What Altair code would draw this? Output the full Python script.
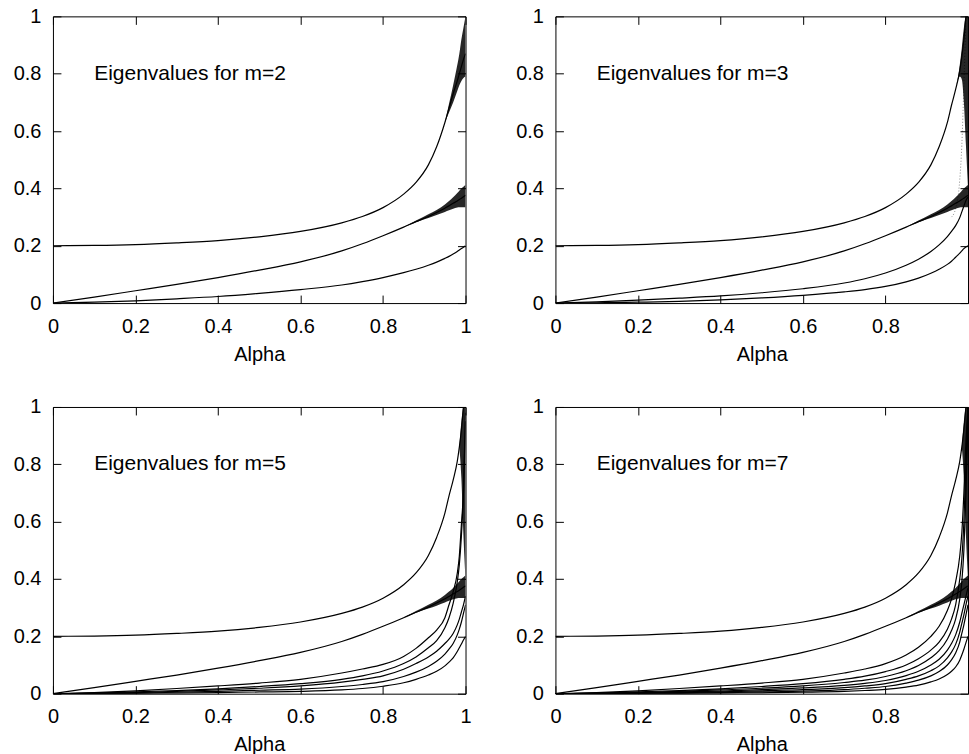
import altair as alt
import pandas as pd

FONT = "Liberation Sans"

# shared alpha grid (x values) used by every curve
ALPHA = [0.0, 0.1, 0.2, 0.3, 0.4, 0.5, 0.6, 0.7, 0.75, 0.8, 0.85, 0.88,
         0.91, 0.93, 0.95, 0.96, 0.97, 0.98, 0.985, 0.99, 0.995, 1.0]
AXIS_TICKS = [0, 0.2, 0.4, 0.6, 0.8, 1.0]

# ---- curves (one per ALPHA entry) ----
TOP = [0.200, 0.201, 0.204, 0.210, 0.218, 0.231, 0.250, 0.280, 0.302, 0.333, 0.380, 0.421,
       0.482, 0.545, 0.630, 0.690, 0.745, 0.810, 0.860, 0.920, 1.000, None]
TOP_M2 = [0.200, 0.201, 0.204, 0.210, 0.218, 0.231, 0.250, 0.280, 0.302, 0.333, 0.380, 0.421,
          0.482, 0.545, 0.630, 0.680, 0.730, 0.775, 0.800, 0.825, 0.850, 0.870]
MID = [0.0, 0.021, 0.043, 0.065, 0.089, 0.115, 0.144, 0.182, 0.207, 0.235, 0.265, 0.284,
       0.302, 0.316, 0.331, 0.339, 0.348, 0.356, 0.361, 0.366, 0.371, 0.376]
LOW_M2 = [0.0, 0.003, 0.008, 0.015, 0.023, 0.034, 0.047, 0.063, 0.075, 0.089, 0.106, 0.118,
          0.132, 0.143, 0.156, 0.163, 0.171, 0.180, 0.185, 0.190, 0.195, 0.200]

M3_A = [0.0, 0.004, 0.010, 0.017, 0.025, 0.036, 0.050, 0.070, 0.085, 0.105, 0.132, 0.153,
        0.180, 0.203, 0.232, 0.250, 0.270, 0.298, 0.318, 0.338, 0.358, 0.370]
M3_B = [0.0, 0.001, 0.003, 0.006, 0.011, 0.018, 0.027, 0.039, 0.047, 0.058, 0.074, 0.087,
        0.104, 0.118, 0.135, 0.146, 0.160, 0.174, 0.182, 0.190, 0.196, 0.200]
M3_STEEP = [None] * 15 + [0.300, 0.330, 0.430, 0.550, 0.760, 1.000, None]

M5_A = [0.0, 0.004, 0.010, 0.018, 0.027, 0.037, 0.050, 0.072, 0.086, 0.102, 0.130, 0.158,
        0.195, 0.222, 0.265, 0.310, 0.355, 0.420, 0.480, 0.590, 0.710, 0.980]
M5_B = [0.0, 0.002, 0.006, 0.011, 0.017, 0.025, 0.035, 0.050, 0.062, 0.079, 0.105, 0.128,
        0.160, 0.185, 0.230, 0.265, 0.315, 0.390, 0.450, 0.550, 0.700, 0.950]
M5_C = [0.0, 0.001, 0.004, 0.008, 0.013, 0.019, 0.027, 0.040, 0.050, 0.062, 0.085, 0.105,
        0.128, 0.148, 0.175, 0.190, 0.210, 0.240, 0.260, 0.285, 0.310, 0.340]
M5_D = [0.0, 0.001, 0.002, 0.005, 0.008, 0.012, 0.016, 0.025, 0.032, 0.042, 0.060, 0.075,
        0.095, 0.113, 0.138, 0.155, 0.175, 0.205, 0.225, 0.250, 0.280, 0.310]
M5_E = [0.0, 0.0, 0.001, 0.002, 0.004, 0.006, 0.008, 0.013, 0.018, 0.026, 0.038, 0.050,
        0.065, 0.078, 0.097, 0.110, 0.125, 0.147, 0.160, 0.173, 0.187, 0.200]

M7_A = [0.0, 0.004, 0.010, 0.018, 0.027, 0.037, 0.050, 0.072, 0.086, 0.105, 0.135, 0.162,
        0.200, 0.235, 0.290, 0.330, 0.390, 0.480, 0.560, 0.700, 0.880, 1.000]
M7_B = [0.0, 0.002, 0.006, 0.011, 0.017, 0.025, 0.035, 0.050, 0.061, 0.077, 0.100, 0.122,
        0.152, 0.180, 0.225, 0.260, 0.310, 0.400, 0.470, 0.600, 0.800, 1.000]
M7_C = [0.0, 0.001, 0.004, 0.008, 0.013, 0.019, 0.027, 0.039, 0.047, 0.060, 0.080, 0.098,
        0.125, 0.150, 0.190, 0.220, 0.260, 0.330, 0.390, 0.500, 0.700, 0.950]
M7_D = [0.0, 0.001, 0.003, 0.006, 0.009, 0.014, 0.020, 0.029, 0.036, 0.046, 0.063, 0.078,
        0.100, 0.120, 0.152, 0.175, 0.205, 0.250, 0.280, 0.310, 0.340, 0.370]
M7_E = [0.0, 0.0, 0.002, 0.004, 0.006, 0.010, 0.014, 0.021, 0.027, 0.035, 0.050, 0.062,
        0.080, 0.097, 0.125, 0.145, 0.172, 0.215, 0.245, 0.275, 0.310, 0.340]
M7_F = [0.0, 0.0, 0.001, 0.002, 0.004, 0.006, 0.009, 0.014, 0.019, 0.025, 0.037, 0.047,
        0.062, 0.077, 0.100, 0.118, 0.142, 0.180, 0.210, 0.240, 0.275, 0.310]
M7_G = [0.0, 0.0, 0.0, 0.001, 0.002, 0.003, 0.005, 0.008, 0.011, 0.015, 0.023, 0.030,
        0.041, 0.051, 0.067, 0.078, 0.093, 0.117, 0.135, 0.155, 0.178, 0.200]

# ---- scattered "fans" of eigenvalues near alpha = 1 (lower / upper edge) ----
TOPFAN_M2_LO = [None] * 14 + [0.630, 0.665, 0.700, 0.740, 0.760, 0.775, 0.785, 0.790]
TOPFAN_M2_HI = [None] * 14 + [0.630, 0.695, 0.760, 0.830, 0.870, 0.920, 0.960, 1.000]
MIDFAN_LO = [None] * 10 + [0.265, 0.282, 0.297, 0.307, 0.318, 0.324, 0.329, 0.333, 0.334, 0.334, 0.334, 0.334]
MIDFAN_HI = [None] * 10 + [0.265, 0.288, 0.310, 0.325, 0.344, 0.356, 0.369, 0.384, 0.392, 0.400, 0.406, 0.412]
EDGEFAN_M3_LO = [None] * 16 + [0.745, 0.790, 0.780, 0.700, 0.550, 0.400]
EDGEFAN_M3_HI = [None] * 16 + [0.745, 0.830, 0.890, 0.960, 1.000, 1.000]
EDGEFAN_LO = [None] * 18 + [0.860, 0.750, 0.550, 0.400]
EDGEFAN_HI = [None] * 18 + [0.860, 0.950, 1.000, 1.000]

PANELS = [
    ("Eigenvalues for m=2", [TOP_M2, MID, LOW_M2], [],
     [(TOPFAN_M2_LO, TOPFAN_M2_HI), (MIDFAN_LO, MIDFAN_HI)], False),
    ("Eigenvalues for m=3", [TOP, MID, M3_A, M3_B], [M3_STEEP],
     [(EDGEFAN_M3_LO, EDGEFAN_M3_HI), (MIDFAN_LO, MIDFAN_HI)], True),
    ("Eigenvalues for m=5", [TOP, MID, M5_A, M5_B, M5_C, M5_D, M5_E], [],
     [(EDGEFAN_LO, EDGEFAN_HI), (MIDFAN_LO, MIDFAN_HI)], False),
    ("Eigenvalues for m=7", [TOP, MID, M7_A, M7_B, M7_C, M7_D, M7_E, M7_F, M7_G], [],
     [(EDGEFAN_LO, EDGEFAN_HI), (MIDFAN_LO, MIDFAN_HI)], True),
]


def long_rows(curves):
    rows = []
    for i, vals in enumerate(curves):
        for a, v in zip(ALPHA, vals):
            if v is not None:
                rows.append({"curve": "c%d" % i, "alpha": a, "value": v})
    return pd.DataFrame(rows)


def fan_rows(fans):
    rows = []
    for i, (lo, hi) in enumerate(fans):
        for a, l, h in zip(ALPHA, lo, hi):
            if l is not None and h is not None:
                rows.append({"fan": "f%d" % i, "alpha": a, "lo": l, "hi": h})
    return pd.DataFrame(rows)


def tick_axis(orient):
    return alt.Axis(orient=orient, values=AXIS_TICKS, labels=False, ticks=True,
                    tickSize=8, tickColor="black", tickWidth=1, offset=-8,
                    domain=False, grid=False, title=None)


def panel(label, curves, faint, fans, hide_one):
    xs = alt.Scale(domain=[0, 1], nice=False, zero=False)
    ys = alt.Scale(domain=[0, 1], nice=False, zero=False)
    label_expr = "datum.value >= 1 ? '' : datum.label" if hide_one else "datum.label"

    lines = alt.Chart(long_rows(curves)).mark_line(
        color="black", strokeWidth=1.2, interpolate="monotone", clip=True
    ).encode(
        x=alt.X("alpha:Q", scale=xs,
                axis=alt.Axis(orient="bottom", values=AXIS_TICKS, format="~g",
                              labelExpr=label_expr, ticks=False, domain=False,
                              grid=False, title="Alpha", labelPadding=13,
                              titlePadding=8, labelFlush=False)),
        y=alt.Y("value:Q", scale=ys,
                axis=alt.Axis(orient="left", values=AXIS_TICKS, format="~g",
                              ticks=False, domain=False, grid=False, title=None,
                              labelPadding=12, labelFlush=False)),
        detail="curve:N",
    )

    fan = alt.Chart(fan_rows(fans)).mark_area(
        color="black", opacity=0.85, interpolate="monotone", clip=True
    ).encode(
        x=alt.X("alpha:Q", scale=xs, axis=None),
        y=alt.Y("lo:Q", scale=ys, axis=None),
        y2="hi:Q",
        detail="fan:N",
    )

    text = alt.Chart(pd.DataFrame({"label": [label]})).mark_text(
        align="left", baseline="middle", font=FONT, fontSize=21, color="black"
    ).encode(
        x=alt.XDatum(0.1, scale=xs, axis=None, type="quantitative"),
        y=alt.YDatum(0.8, scale=ys, axis=None, type="quantitative"),
        text="label:N",
    )

    tick_df = pd.DataFrame({"t": AXIS_TICKS})
    ticks_bl = alt.Chart(tick_df).mark_point(opacity=0, size=0).encode(
        x=alt.X("t:Q", scale=xs, axis=tick_axis("bottom")),
        y=alt.Y("t:Q", scale=ys, axis=tick_axis("left")),
    )
    ticks_tr = alt.Chart(tick_df).mark_point(opacity=0, size=0).encode(
        x=alt.X("t:Q", scale=xs, axis=tick_axis("top")),
        y=alt.Y("t:Q", scale=ys, axis=tick_axis("right")),
    )

    layers = [fan, lines]
    if faint:
        faint_chart = alt.Chart(long_rows(faint)).mark_line(
            color="black", strokeWidth=0.8, opacity=0.6, strokeDash=[1, 2],
            interpolate="monotone", clip=True
        ).encode(
            x=alt.X("alpha:Q", scale=xs, axis=None),
            y=alt.Y("value:Q", scale=ys, axis=None),
            detail="curve:N",
        )
        layers.append(faint_chart)
    layers += [text, ticks_bl, ticks_tr]
    return alt.layer(*layers).resolve_axis(x="independent", y="independent").properties(
        width=413, height=287)


charts = [panel(*p) for p in PANELS]

chart = alt.concat(
    *charts, columns=2, spacing={"row": 104, "column": 90}, bounds="flush"
).properties(
    padding={"left": 12, "top": 5, "right": 0, "bottom": 0},
    background="white",
).configure_view(
    stroke="black", strokeWidth=1
).configure_axis(
    labelFont=FONT, labelFontSize=20, labelColor="black",
    titleFont=FONT, titleFontSize=20, titleFontWeight="normal", titleColor="black",
)

chart.save("out.html", embed_options={"renderer": "svg", "actions": False})
